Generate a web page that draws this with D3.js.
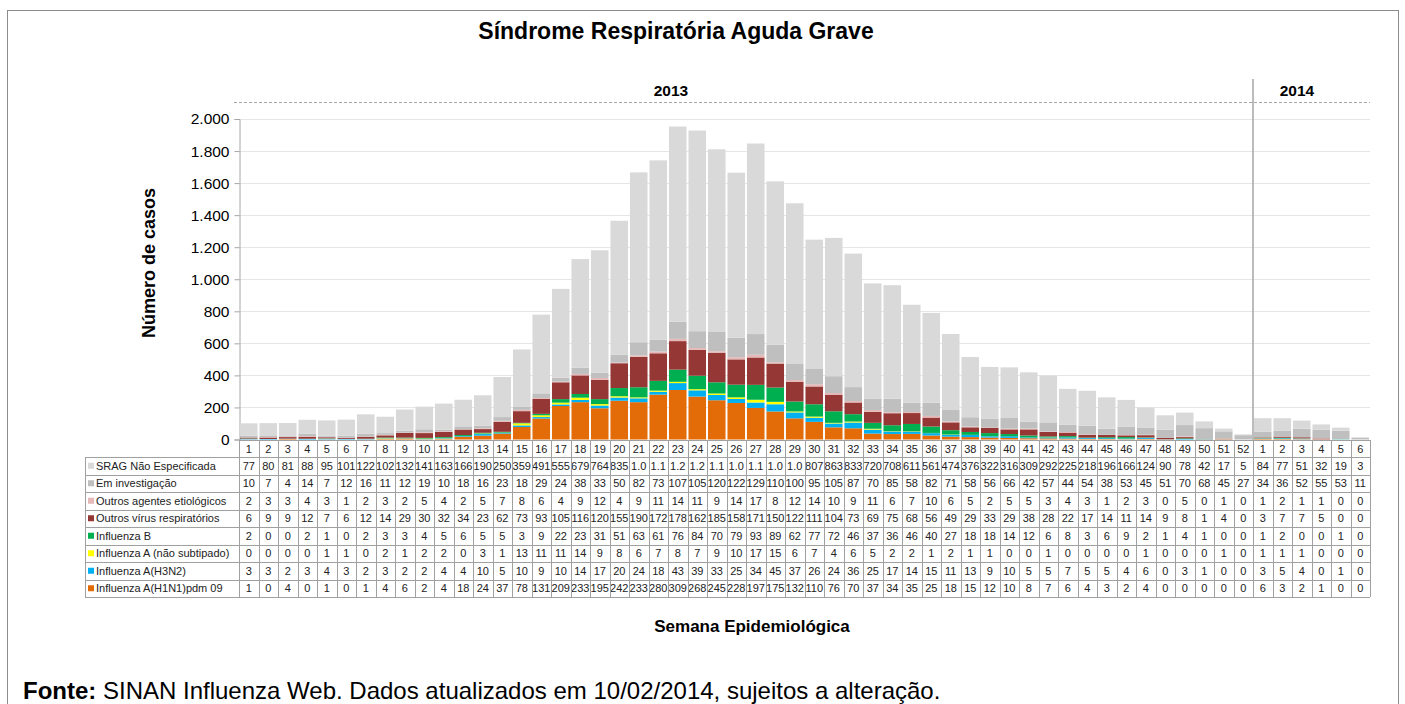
<!DOCTYPE html>
<html>
<head>
<meta charset="utf-8">
<script src="https://cdn.jsdelivr.net/npm/d3@7"></script>
<style>
	body { margin: 0; background: #fff; }
	svg text { font-family: "Liberation Sans", Arial, sans-serif; }
</style>
</head>
<body>
<div id="chart-area"></div>
<script>

// week labels (2013: 1-52, 2014: 1-6)
let weeks2013 = d3.range(1, 53);
let weeks2014 = [1, 2, 3, 4, 5, 6];
let weekLabels = weeks2013.concat(weeks2014);

// series, bottom to top of the stack
let h1n1 = [1,0,4,0,1,0,1,4,6,2,4,18,24,37,78,131,209,233,195,242,233,280,309,268,245,228,197,175,132,110,76,70,37,34,35,25,18,15,12,10,8,7,6,4,3,2,4,0,0,0,0,0, 6,3,2,1,0,0];
let h3n2 = [3,3,2,3,4,3,2,3,2,2,4,4,10,5,10,9,10,14,17,20,24,18,43,39,33,25,34,45,37,26,24,36,25,17,14,15,11,13,9,10,5,5,7,5,5,4,6,0,3,1,0,0, 3,5,4,0,1,0];
let fluANaoSub = [0,0,0,0,1,1,0,2,1,2,2,0,3,1,13,11,11,14,9,8,6,7,8,7,9,10,17,15,6,7,4,6,5,2,2,1,2,1,1,0,0,1,0,0,0,0,1,0,0,0,1,0, 1,1,1,0,0,0];
let fluB = [2,0,0,2,1,0,2,3,3,4,5,6,5,5,3,9,22,23,31,51,63,61,76,84,70,79,93,89,62,77,72,46,37,36,46,40,27,18,18,14,12,6,8,3,6,9,2,1,4,1,0,0, 1,2,0,0,1,0];
let outrosVirus = [6,9,9,12,7,6,12,14,29,30,32,34,23,62,73,93,105,116,120,155,190,172,178,162,185,158,171,150,122,111,104,73,69,75,68,56,49,29,33,29,38,28,22,17,14,11,14,9,8,1,4,0, 3,7,7,5,0,0];
let outrosAgentes = [2,3,3,4,3,1,2,3,2,5,4,2,5,7,8,6,4,9,12,4,9,11,14,11,9,14,17,8,12,14,10,9,11,6,7,10,6,5,2,5,5,3,4,3,1,2,3,0,5,0,1,0, 1,2,1,1,0,0];
let emInvestigacao = [10,7,4,14,7,12,16,11,12,19,10,18,16,23,18,29,24,38,33,50,82,73,107,105,120,122,129,110,100,95,105,87,70,85,58,82,71,58,56,66,42,57,44,54,38,53,45,51,70,68,45,27, 34,36,52,55,53,11];
let sragNaoEspecificada = [77,80,81,88,95,101,122,102,132,141,163,166,190,250,359,491,555,679,764,835,1060,1120,1218,1252,1140,1029,1189,1019,1003,807,863,833,720,708,611,561,474,376,322,316,309,292,225,218,196,166,124,90,78,42,17,5, 84,77,51,32,19,3];

let seriesNames = ["Influenza A(H1N1)pdm 09", "Influenza A(H3N2)", "Influenza A  (não subtipado)", "Influenza B",
	"Outros vírus respiratórios", "Outros agentes etiológicos", "Em investigação", "SRAG Não Especificada"];
let seriesValues = [h1n1, h3n2, fluANaoSub, fluB, outrosVirus, outrosAgentes, emInvestigacao, sragNaoEspecificada];
let seriesColors = ["#e36c09", "#00b0f0", "#ffff00", "#00b050", "#953735", "#e6b9b8", "#bfbfbf", "#d9d9d9"];

let yTicks = [0, 200, 400, 600, 800, 1000, 1200, 1400, 1600, 1800, 2000];

// build rows for d3.stack
let keys = seriesNames;
let rows = weekLabels.map((w, i) => {
	let r = {idx: i};
	keys.forEach((k, j) => r[k] = seriesValues[j][i]);
	return r;
});
let stacked = d3.stack().keys(keys)(rows);

let ptBR = d3.formatLocale({decimal: ",", thousands: ".", grouping: [3], currency: ["R$", ""]});
let fmtAxis = ptBR.format(",d");
// values over 1000 only fit the narrow cell as "1.0", "1.1"...
let fmtCell = v => v >= 1000 ? (Math.floor(v / 100) / 10).toFixed(1) : String(v);

let width = 1405, height = 704;
let svg = d3.select("#chart-area").append("svg")
	.attr("width", width)
	.attr("height", height);

// frame
svg.append("rect")
	.attr("x", 7.5).attr("y", 10.5)
	.attr("width", 1391).attr("height", 720)
	.attr("fill", "none").attr("stroke", "#8c8c8c");

// scales
let x = d3.scaleBand()
	.domain(d3.range(weekLabels.length))
	.range([239, 1370])
	.paddingInner(0.1)
	.paddingOuter(0.05);

let y = d3.scaleLinear()
	.domain([0, 2000])
	.range([439.5, 119]);

// gridlines
svg.append("g").selectAll("line")
	.data(yTicks.slice(1))
	.enter().append("line")
	.attr("x1", 239).attr("x2", 1370)
	.attr("y1", d => Math.round(y(d)) + 0.5)
	.attr("y2", d => Math.round(y(d)) + 0.5)
	.attr("stroke", "#e6e6e6");

// y axis
let yAxis = d3.axisLeft(y).tickValues(yTicks).tickFormat(fmtAxis).tickSize(5).tickPadding(5);
let yAxisG = svg.append("g")
	.attr("class", "y-axis")
	.attr("transform", "translate(239.5,0)")
	.call(yAxis);
yAxisG.select(".domain").attr("stroke", "#a6a6a6");
yAxisG.selectAll(".tick line").attr("stroke", "#a6a6a6");
yAxisG.selectAll(".tick text")
	.style("font-size", "15.5px")
	.attr("fill", "#000");

// stacked bars
svg.append("g").selectAll("g")
	.data(stacked)
	.enter().append("g")
	.attr("fill", (d, i) => seriesColors[i])
	.selectAll("rect")
	.data(d => d)
	.enter().append("rect")
	.attr("x", d => x(d.data.idx))
	.attr("width", x.bandwidth())
	.attr("y", d => y(d[1]))
	.attr("height", d => y(d[0]) - y(d[1]));

// year separators
svg.append("line")
	.attr("x1", 234).attr("x2", 1370)
	.attr("y1", 102.5).attr("y2", 102.5)
	.attr("stroke", "#a6a6a6")
	.style("stroke-dasharray", "3,2");

let xSep = (x(51) + x.bandwidth() + x(52)) / 2;
svg.append("line")
	.attr("x1", xSep).attr("x2", xSep)
	.attr("y1", 79).attr("y2", 440)
	.attr("stroke", "#a6a6a6")
	.attr("stroke-width", 1.5);

svg.append("text")
	.text("2013")
	.attr("x", 671).attr("y", 96)
	.attr("text-anchor", "middle")
	.style("font-size", "15.5px").style("font-weight", "bold");

svg.append("text")
	.text("2014")
	.attr("x", 1297).attr("y", 96)
	.attr("text-anchor", "middle")
	.style("font-size", "15.5px").style("font-weight", "bold");

// title
svg.append("text")
	.text("Síndrome Respiratória Aguda Grave")
	.attr("x", 676).attr("y", 39)
	.attr("text-anchor", "middle")
	.style("font-size", "23px").style("font-weight", "bold");

// y axis label
svg.append("text")
	.text("Número de casos")
	.attr("transform", "translate(155,263) rotate(-90)")
	.attr("text-anchor", "middle")
	.style("font-size", "18px").style("font-weight", "bold");

// data table
let tableTop = 440, headerH = 17, rowH = 17.5, legendLeft = 85;
let table = svg.append("g").attr("class", "data-table");
let gridColor = "#a0a0a0";

// header with week numbers
table.selectAll(".hdr")
	.data(weekLabels)
	.enter().append("text")
	.attr("class", "hdr")
	.attr("x", (d, i) => x(i) + x.bandwidth() / 2)
	.attr("y", tableTop + headerH - 4)
	.attr("text-anchor", "middle")
	.style("font-size", "11px")
	.attr("fill", "#222")
	.text(d => d);

// rows are listed top to bottom in reverse stack order
let tableRows = d3.range(seriesNames.length).reverse();
tableRows.forEach((s, r) => {
	let top = tableTop + headerH + r * rowH;
	let g = table.append("g");
	g.append("rect")
		.attr("x", legendLeft + 3).attr("y", top + rowH / 2 - 3)
		.attr("width", 6).attr("height", 6)
		.attr("fill", seriesColors[s]);
	g.append("text")
		.attr("x", legendLeft + 11).attr("y", top + rowH - 5)
		.style("font-size", "11px")
		.attr("fill", "#222")
		.text(seriesNames[s]);
	g.selectAll(".cell")
		.data(seriesValues[s])
		.enter().append("text")
		.attr("class", "cell")
		.attr("x", (d, i) => x(i) + x.bandwidth() / 2)
		.attr("y", top + rowH - 5)
		.attr("text-anchor", "middle")
		.style("font-size", "11px")
		.attr("fill", "#222")
		.text(d => fmtCell(d));
});

// table grid lines
let tableBottom = tableTop + headerH + seriesNames.length * rowH;
let colEdges = weekLabels.map((d, i) => i === 0 ? 239 : (x(i - 1) + x.bandwidth() + x(i)) / 2).concat([1370]);
table.selectAll(".vline")
	.data(colEdges)
	.enter().append("line")
	.attr("x1", d => Math.round(d) + 0.5).attr("x2", d => Math.round(d) + 0.5)
	.attr("y1", tableTop).attr("y2", tableBottom)
	.attr("stroke", gridColor);
table.append("line")
	.attr("x1", legendLeft + 0.5).attr("x2", legendLeft + 0.5)
	.attr("y1", tableTop + headerH).attr("y2", tableBottom)
	.attr("stroke", gridColor);
table.append("line")
	.attr("x1", 239).attr("x2", 1370)
	.attr("y1", tableTop + 0.5).attr("y2", tableTop + 0.5)
	.attr("stroke", gridColor);
table.selectAll(".hline")
	.data(d3.range(seriesNames.length + 1))
	.enter().append("line")
	.attr("x1", legendLeft).attr("x2", 1370)
	.attr("y1", d => Math.round(tableTop + headerH + d * rowH) + 0.5)
	.attr("y2", d => Math.round(tableTop + headerH + d * rowH) + 0.5)
	.attr("stroke", gridColor);

// x axis title
svg.append("text")
	.text("Semana Epidemiológica")
	.attr("x", 752).attr("y", 632)
	.attr("text-anchor", "middle")
	.style("font-size", "17px").style("font-weight", "bold");

// source note
let note = svg.append("text")
	.attr("x", 23).attr("y", 699)
	.style("font-size", "24px");
note.append("tspan").style("font-weight", "bold").text("Fonte:");
note.append("tspan").text(" SINAN Influenza Web. Dados atualizados em 10/02/2014, sujeitos a alteração.");

</script>
</body>
</html>
